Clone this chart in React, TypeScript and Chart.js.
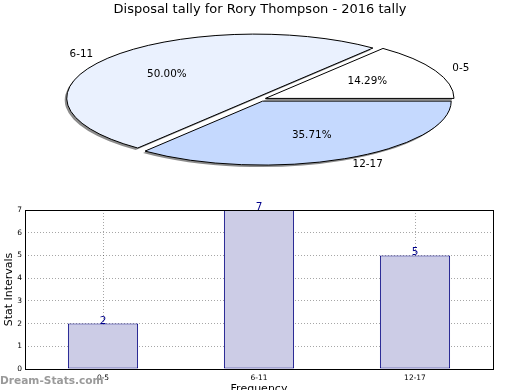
import React, { useEffect, useRef } from 'react';
import { Chart, registerables } from 'chart.js';

Chart.register(...registerables);

const categories = ['0-5', '6-11', '12-17'];
const counts = [2, 7, 5];
const yTicks = [0, 1, 2, 3, 4, 5, 6, 7];
const pieColors = ['#ffffff', '#eaf1fe', '#c5d9fe'];
const pieExplode = [6, 6, 6];
const titleText = 'Disposal tally for Rory Thompson - 2016 tally';
const xTitle = 'Frequency';
const yTitle = 'Stat Intervals';
const watermark = 'Dream-Stats.com';

const FONT = "'DejaVu Sans', sans-serif";
const TILT = 0.339;
const PIE_CY = 99.3;
const PIE_R = 188.6;

const tiltPlugin = {
  id: 'tilt',
  beforeDatasetsDraw(chart: any) {
    const meta = chart.getDatasetMeta(0);
    const arc = meta.data[0];
    const ctx = chart.ctx;
    meta.data.forEach((el: any, i: number) => {
      if (el.__wrapped) return;
      const protoDraw = Object.getPrototypeOf(el).draw;
      el.draw = function (c: any, area: any) {
        const mid = (this.startAngle + this.endAngle) / 2;
        c.save();
        c.translate(Math.cos(mid) * pieExplode[i], Math.sin(mid) * pieExplode[i]);
        protoDraw.call(this, c, area);
        c.restore();
      };
      el.__wrapped = true;
    });
    const base = ctx.getTransform();
    ctx.save();
    ctx.translate(arc.x, PIE_CY);
    ctx.scale(1, -TILT);
    ctx.translate(-arc.x, -arc.y);
    ctx.shadowColor = 'rgba(0,0,0,0.45)';
    ctx.shadowOffsetX = -2;
    ctx.shadowOffsetY = 2;
    ctx.shadowBlur = 0;
    const orig = CanvasRenderingContext2D.prototype.stroke;
    ctx.stroke = function (...args: any[]) {
      this.save();
      this.setTransform(base);
      this.shadowColor = 'rgba(0,0,0,0)';
      (orig as any).apply(this, args);
      this.restore();
    };
  },
  afterDatasetsDraw(chart: any) {
    const ctx = chart.ctx;
    delete ctx.stroke;
    ctx.restore();
    const meta = chart.getDatasetMeta(0);
    const total = counts.reduce((a, b) => a + b, 0);
    ctx.save();
    ctx.fillStyle = '#000';
    ctx.font = `10.4px ${FONT}`;
    ctx.textBaseline = 'middle';
    meta.data.forEach((el: any, i: number) => {
      const { x, startAngle, endAngle, outerRadius } = el.getProps(
        ['x', 'y', 'startAngle', 'endAngle', 'outerRadius'],
        true
      );
      const mid = (startAngle + endAngle) / 2;
      const tr = pieExplode[i];
      const map = (r: number) => [
        x + Math.cos(mid) * (tr + r),
        PIE_CY - TILT * Math.sin(mid) * (tr + r),
      ];
      const [lx, ly] = map(outerRadius * 1.1);
      ctx.textAlign = Math.cos(mid) > 0 ? 'left' : 'right';
      ctx.fillText(categories[i], lx, ly);
      const [px, py] = map(outerRadius * 0.6);
      ctx.textAlign = 'center';
      ctx.fillText(((counts[i] / total) * 100).toFixed(2) + '%', px, py);
    });
    ctx.restore();
  },
};

const framePlugin = {
  id: 'frame',
  afterDatasetsDraw(chart: any) {
    const ctx = chart.ctx;
    const a = chart.chartArea;
    ctx.save();
    ctx.strokeStyle = '#000';
    ctx.lineWidth = 1;
    ctx.strokeRect(
      Math.round(a.left) + 0.5,
      Math.round(a.top) + 0.5,
      Math.round(a.right - a.left),
      Math.round(a.bottom - a.top)
    );
    const meta = chart.getDatasetMeta(0);
    ctx.fillStyle = '#00008b';
    ctx.font = `10.5px ${FONT}`;
    ctx.textAlign = 'center';
    ctx.textBaseline = 'alphabetic';
    meta.data.forEach((el: any, i: number) => {
      ctx.fillText(String(counts[i]), el.x, el.y);
    });
    ctx.restore();
  },
  afterDraw(chart: any) {
    const ctx = chart.ctx;
    ctx.save();
    ctx.fillStyle = '#9a9a9a';
    ctx.font = `bold 10.6px ${FONT}`;
    ctx.textAlign = 'left';
    ctx.textBaseline = 'middle';
    ctx.fillText(watermark, 0, 181);
    ctx.restore();
  },
};

export default function App() {
  const pieRef = useRef<HTMLCanvasElement>(null);
  const barRef = useRef<HTMLCanvasElement>(null);

  useEffect(() => {
    const pie = new Chart(pieRef.current as HTMLCanvasElement, {
      type: 'pie',
      data: {
        labels: categories,
        datasets: [
          {
            data: counts,
            backgroundColor: pieColors,
            borderColor: '#000',
            borderWidth: 1,
            radius: PIE_R,
            clip: false,
          } as any,
        ],
      },
      options: {
        responsive: false,
        animation: false,
        rotation: 90,
        layout: { padding: 0 },
        plugins: {
          legend: { display: false },
          tooltip: { enabled: false },
          title: {
            display: true,
            text: titleText,
            color: '#000',
            font: { family: FONT, size: 13, weight: 'normal' },
            padding: { top: 2, bottom: 4 },
          },
        },
      } as any,
      plugins: [tiltPlugin],
    });

    const bar = new Chart(barRef.current as HTMLCanvasElement, {
      type: 'bar',
      data: {
        labels: categories,
        datasets: [
          {
            data: counts,
            backgroundColor: '#ccccE6',
            borderColor: '#000080',
            borderWidth: 1,
            borderSkipped: false,
            categoryPercentage: 0.45,
            barPercentage: 1,
          } as any,
        ],
      },
      options: {
        responsive: false,
        animation: false,
        layout: { padding: { top: 10, right: 27, left: 0, bottom: 0 } },
        plugins: {
          legend: { display: false },
          tooltip: { enabled: false },
        },
        scales: {
          x: {
            grid: { offset: false, color: 'rgba(0,0,0,0.35)', drawTicks: false },
            border: { display: false, dash: [1, 2] },
            ticks: { font: { family: FONT, size: 7.5 }, color: '#000', padding: 5, maxRotation: 0 },
            title: {
              display: true,
              text: xTitle,
              color: '#000',
              font: { family: FONT, size: 11 },
              padding: { top: 0, bottom: 4 },
            },
            afterFit(s: any) {
              s.height = 31;
            },
          },
          y: {
            min: 0,
            max: 7,
            afterBuildTicks(s: any) {
              s.ticks = yTicks.map((v) => ({ value: v }));
            },
            grid: { color: 'rgba(0,0,0,0.35)', drawTicks: false },
            border: { display: false, dash: [1, 2] },
            ticks: { font: { family: FONT, size: 7.5 }, color: '#000', padding: 3 },
            title: {
              display: true,
              text: yTitle,
              color: '#000',
              font: { family: FONT, size: 11 },
              padding: { top: 3, bottom: 0 },
            },
            afterFit(s: any) {
              s.width = 25;
            },
          },
        },
      } as any,
      plugins: [framePlugin],
    });

    return () => {
      pie.destroy();
      bar.destroy();
    };
  }, []);

  return (
    <div>
      <canvas
        ref={barRef}
        width={520}
        height={200}
        style={{ position: 'fixed', left: 0, top: 200, width: 520, height: 200 }}
      />
      <canvas
        ref={pieRef}
        width={520}
        height={390}
        style={{ position: 'fixed', left: 0, top: 0, width: 520, height: 390 }}
      />
    </div>
  );
}
